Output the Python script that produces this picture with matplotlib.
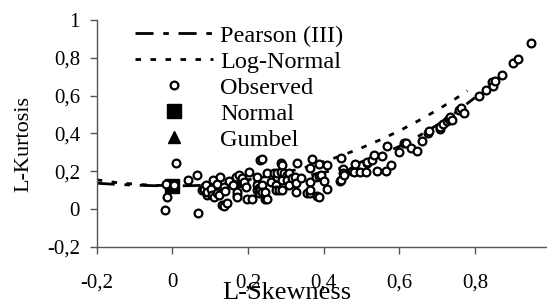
import matplotlib
matplotlib.use('Agg')
import matplotlib.pyplot as plt

plt.rcParams['font.family'] = ['Liberation Serif', 'DejaVu Serif']

# theoretical curves (L-skewness vs L-kurtosis)
pe3_x = [-0.2, -0.15, -0.1, -0.05, 0.0, 0.05, 0.1, 0.15, 0.2, 0.25, 0.3, 0.35,
         0.4, 0.45, 0.5, 0.55, 0.6, 0.65, 0.7, 0.75, 0.8]
pe3_y = [0.136, 0.130, 0.126, 0.123, 0.122, 0.123, 0.126, 0.130, 0.136, 0.145,
         0.157, 0.173, 0.193, 0.218, 0.249, 0.287, 0.331, 0.384, 0.444, 0.512, 0.589]
ln_x = [-0.2, -0.15, -0.1, -0.05, 0.0, 0.05, 0.1, 0.15, 0.2, 0.25, 0.3, 0.35,
        0.4, 0.45, 0.5, 0.55, 0.6, 0.65, 0.7, 0.75, 0.78]
ln_y = [0.154, 0.140, 0.131, 0.125, 0.123, 0.125, 0.131, 0.140, 0.154, 0.172,
        0.194, 0.219, 0.250, 0.284, 0.323, 0.366, 0.413, 0.466, 0.523, 0.585, 0.626]

# observed sites
obs_x = [-0.020, -0.018, -0.013, 0.005, 0.009, 0.041, 0.066, 0.068, 0.079, 0.084,
         0.090, 0.092, 0.092, 0.101, 0.106, 0.108, 0.110, 0.118, 0.119, 0.123,
         0.126, 0.132, 0.136, 0.136, 0.140, 0.145, 0.150, 0.160, 0.167, 0.170,
         0.172, 0.172, 0.175, 0.185, 0.190, 0.194, 0.198, 0.202, 0.211, 0.225,
         0.225, 0.225, 0.228, 0.228, 0.233, 0.233, 0.238, 0.238, 0.238, 0.246,
         0.246, 0.251, 0.251, 0.260, 0.268, 0.273, 0.273, 0.277, 0.277, 0.282,
         0.286, 0.286, 0.291, 0.291, 0.291, 0.295, 0.304, 0.304, 0.308, 0.308,
         0.317, 0.324, 0.326, 0.326, 0.330, 0.339, 0.357, 0.364, 0.365, 0.365,
         0.365, 0.370, 0.381, 0.383, 0.387, 0.387, 0.387, 0.394, 0.401, 0.408,
         0.408, 0.443, 0.445, 0.445, 0.451, 0.452, 0.453, 0.476, 0.480, 0.484,
         0.496, 0.511, 0.515, 0.515, 0.528, 0.534, 0.540, 0.555, 0.564, 0.568,
         0.577, 0.599, 0.612, 0.619, 0.630, 0.646, 0.659, 0.675, 0.678, 0.709,
         0.709, 0.716, 0.725, 0.731, 0.735, 0.740, 0.757, 0.762, 0.772, 0.810,
         0.830, 0.844, 0.848, 0.852, 0.872, 0.901, 0.913, 0.948]
obs_y = [-0.007, 0.131, 0.064, 0.125, 0.241, 0.153, 0.179, -0.019, 0.099, 0.108,
         0.125, 0.073, 0.090, 0.108, 0.073, 0.153, 0.064, 0.130, 0.082, 0.073,
         0.170, 0.020, 0.014, 0.117, 0.095, 0.029, 0.150, 0.128, 0.170, 0.073,
         0.090, 0.064, 0.180, 0.162, 0.140, 0.117, 0.055, 0.197, 0.055, 0.170,
         0.126, 0.099, 0.110, 0.083, 0.259, 0.099, 0.263, 0.126, 0.090, 0.055,
         0.090, 0.188, 0.055, 0.144, 0.188, 0.126, 0.099, 0.170, 0.188, 0.099,
         0.243, 0.197, 0.232, 0.153, 0.099, 0.188, 0.179, 0.153, 0.188, 0.126,
         0.162, 0.170, 0.135, 0.090, 0.245, 0.162, 0.082, 0.085, 0.144, 0.099,
         0.215, 0.263, 0.170, 0.068, 0.236, 0.174, 0.064, 0.179, 0.149, 0.232,
         0.103, 0.149, 0.268, 0.153, 0.209, 0.188, 0.179, 0.202, 0.197, 0.238,
         0.197, 0.197, 0.241, 0.250, 0.259, 0.283, 0.202, 0.280, 0.203, 0.334,
         0.232, 0.303, 0.348, 0.351, 0.321, 0.309, 0.359, 0.401, 0.410, 0.422,
         0.436, 0.451, 0.463, 0.476, 0.489, 0.472, 0.525, 0.534, 0.507, 0.596,
         0.631, 0.670, 0.649, 0.676, 0.711, 0.773, 0.791, 0.876]

normal_pt = (0.0, 0.1226)
gumbel_pt = (0.1699, 0.1504)

x_ticks = [-0.2, 0, 0.2, 0.4, 0.6, 0.8]
y_ticks = [-0.2, 0, 0.2, 0.4, 0.6, 0.8, 1]


def fmt(v):
    return ('%g' % v).replace('.', ',')


fig = plt.figure(figsize=(5.47, 3.04), dpi=100)
ax = fig.add_axes([0.1768, 0.1885, 0.8214, 0.7457])

ax.plot(pe3_x, pe3_y, color='black', lw=2, dashes=(6.5, 3.5, 2, 3.5),
        label='Pearson (III)')
ax.plot(ln_x, ln_y, color='black', lw=2, dashes=(2, 3.4), label='Log-Normal')
ax.plot(*normal_pt, 's', color='black', ms=9.5, label='Normal', zorder=3)
ax.plot(*gumbel_pt, '^', color='black', ms=9, label='Gumbel', zorder=3)
ax.plot(obs_x, obs_y, 'o', mfc='white', mec='black', ms=5.6, mew=1.6,
        ls='none', label='Observed', zorder=4)

ax.set_xlim(-0.2, 0.988)
ax.set_ylim(-0.2, 1)
ax.set_xticks(x_ticks)
ax.set_xticklabels([fmt(v) for v in x_ticks])
ax.set_yticks(y_ticks)
ax.set_yticklabels([fmt(v) for v in y_ticks])

for s in ['top', 'right']:
    ax.spines[s].set_visible(False)
for s in ['left', 'bottom']:
    ax.spines[s].set_color('#555555')
    ax.spines[s].set_linewidth(1.0)
ax.tick_params(axis='both', direction='out', length=5, width=1.0,
               color='#555555', labelsize=15)
ax.tick_params(axis='x', pad=14)
ax.tick_params(axis='y', pad=7)

ax.set_xlabel('L-Skewness', fontsize=19)
ax.xaxis.set_label_coords(0.423, -0.156)
ax.set_ylabel('L-Kurtosis', fontsize=16)
ax.yaxis.set_label_coords(-0.142, 0.451)

handles, labels = ax.get_legend_handles_labels()
order = [labels.index(n) for n in
         ['Pearson (III)', 'Log-Normal', 'Observed', 'Normal', 'Gumbel']]
ax.legend([handles[i] for i in order], [labels[i] for i in order],
          loc='upper left', bbox_to_anchor=(0.085, 0.978), frameon=False,
          fontsize=17.5, handlelength=3.2, handletextpad=0.3, labelspacing=0.16,
          borderpad=0, borderaxespad=0)

plt.savefig('out.png', dpi=100)
